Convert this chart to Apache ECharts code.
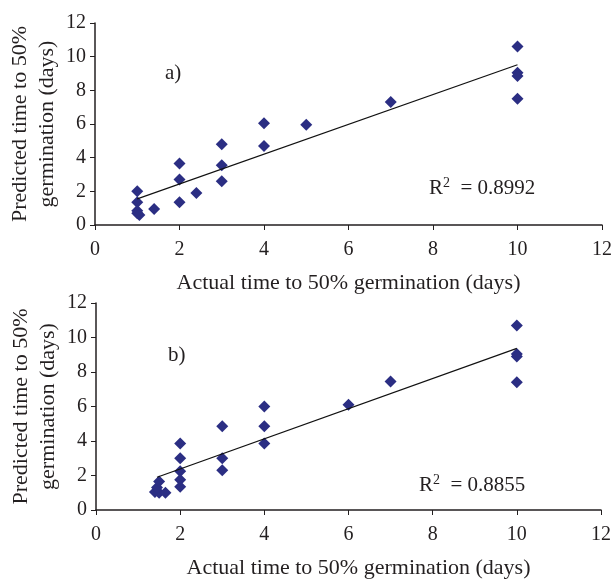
<!DOCTYPE html>
<html>
<head>
<meta charset="utf-8">
<script src="https://cdn.jsdelivr.net/npm/echarts@6/dist/echarts.min.js"></script>
<style>
  html, body { margin: 0; padding: 0; background: #fff; }
  #chart { width: 614px; height: 579px; }
</style>
</head>
<body>
<div id="chart"></div>
<script>
// panel a) 实测 vs 预测
var actualA = [1, 1, 1, 1, 1.05, 1.4, 2, 2, 2, 2.4, 3, 3, 3, 4, 4, 5, 7, 10, 10, 10, 10];
var predA   = [2.0, 1.35, 0.85, 0.7, 0.6, 0.95, 3.65, 2.7, 1.35, 1.9, 4.8, 3.55, 2.6, 6.05, 4.7, 5.95, 7.3, 10.6, 9.05, 8.85, 7.5];
var trendA  = [[1, 1.55], [10, 9.52]];
var r2A = '0.8992';

// panel b)
var actualB = [1.4, 1.5, 1.65, 1.45, 1.5, 2, 2, 2, 2, 2, 3, 3, 3, 4, 4, 4, 6, 7, 10, 10, 10, 10];
var predB   = [1.05, 1.0, 1.0, 1.3, 1.65, 3.85, 3.0, 2.25, 1.75, 1.35, 4.85, 3.0, 2.3, 6.0, 4.85, 3.85, 6.1, 7.45, 10.7, 9.05, 8.9, 7.4];
var trendB  = [[1.45, 1.9], [10, 9.37]];
var r2B = '0.8855';

var xName = 'Actual time to 50% germination (days)';
var yName = 'Predicted time to 50%\ngermination (days)';

var font = '"Liberation Serif", "DejaVu Serif", serif';
var ink = '#231f20';
var dot = '#2b2e83';

function pairs(xs, ys) {
    return xs.map(function (x, i) { return [x, ys[i]]; });
}

function xAxisCfg(idx, padLeft) {
    return {
        gridIndex: idx, type: 'value', min: 0, max: 12, interval: 2,
        name: xName, nameLocation: 'middle', nameGap: 47, nameMoveOverlap: false,
        nameTextStyle: { fontFamily: font, fontSize: 22, color: ink, padding: [0, 0, 0, padLeft] },
        axisLine: { lineStyle: { color: ink, width: 1.5 } },
        axisTick: { lineStyle: { color: ink }, length: 5 },
        axisLabel: { fontFamily: font, fontSize: 20, color: ink, margin: 15 },
        splitLine: { show: false }
    };
}

function yAxisCfg(idx) {
    return {
        gridIndex: idx, type: 'value', min: 0, max: 12, interval: 2,
        name: yName, nameLocation: 'middle', nameGap: 34, nameRotate: 90, nameMoveOverlap: false,
        nameTextStyle: { fontFamily: font, fontSize: 22, color: ink, lineHeight: 27 },
        axisLine: { show: true, lineStyle: { color: ink, width: 1.5 } },
        axisTick: { show: true, lineStyle: { color: ink }, length: 5 },
        axisLabel: { fontFamily: font, fontSize: 20, color: ink, margin: 9 },
        splitLine: { show: false }
    };
}

function r2Text(left, top, val) {
    return {
        type: 'text', left: left, top: top,
        style: {
            text: '{b|R}{s|2}{b|  = ' + val + '}',
            rich: {
                b: { fontFamily: font, fontSize: 21, fill: ink, lineHeight: 24 },
                s: { fontFamily: font, fontSize: 14, fill: ink, verticalAlign: 'top', lineHeight: 24, padding: [0, 0, 9, 0] }
            }
        }
    };
}

var myChart = echarts.init(document.getElementById('chart'));
myChart.setOption({
    animation: false,
    grid: [
        { left: 95, right: 12, top: 23, height: 202, outerBoundsMode: 'none', containLabel: false },
        { left: 96, right: 13, top: 303, height: 207, outerBoundsMode: 'none', containLabel: false }
    ],
    xAxis: [xAxisCfg(0, 0), xAxisCfg(1, 20)],
    yAxis: [yAxisCfg(0), yAxisCfg(1)],
    series: [
        {
            type: 'scatter', xAxisIndex: 0, yAxisIndex: 0,
            symbol: 'diamond', symbolSize: 12,
            itemStyle: { color: dot, opacity: 1 },
            data: pairs(actualA, predA)
        },
        {
            type: 'line', xAxisIndex: 0, yAxisIndex: 0,
            symbol: 'none', lineStyle: { color: '#111', width: 1.2 },
            data: trendA, z: 3
        },
        {
            type: 'scatter', xAxisIndex: 1, yAxisIndex: 1,
            symbol: 'diamond', symbolSize: 12,
            itemStyle: { color: dot, opacity: 1 },
            data: pairs(actualB, predB)
        },
        {
            type: 'line', xAxisIndex: 1, yAxisIndex: 1,
            symbol: 'none', lineStyle: { color: '#111', width: 1.2 },
            data: trendB, z: 3
        }
    ],
    graphic: [
        { type: 'text', left: 165, top: 63, style: { text: 'a)', fontFamily: font, fontSize: 21, fill: ink } },
        { type: 'text', left: 168, top: 345, style: { text: 'b)', fontFamily: font, fontSize: 21, fill: ink } },
        r2Text(429, 176, r2A),
        r2Text(419, 473, r2B)
    ]
});
</script>
</body>
</html>
